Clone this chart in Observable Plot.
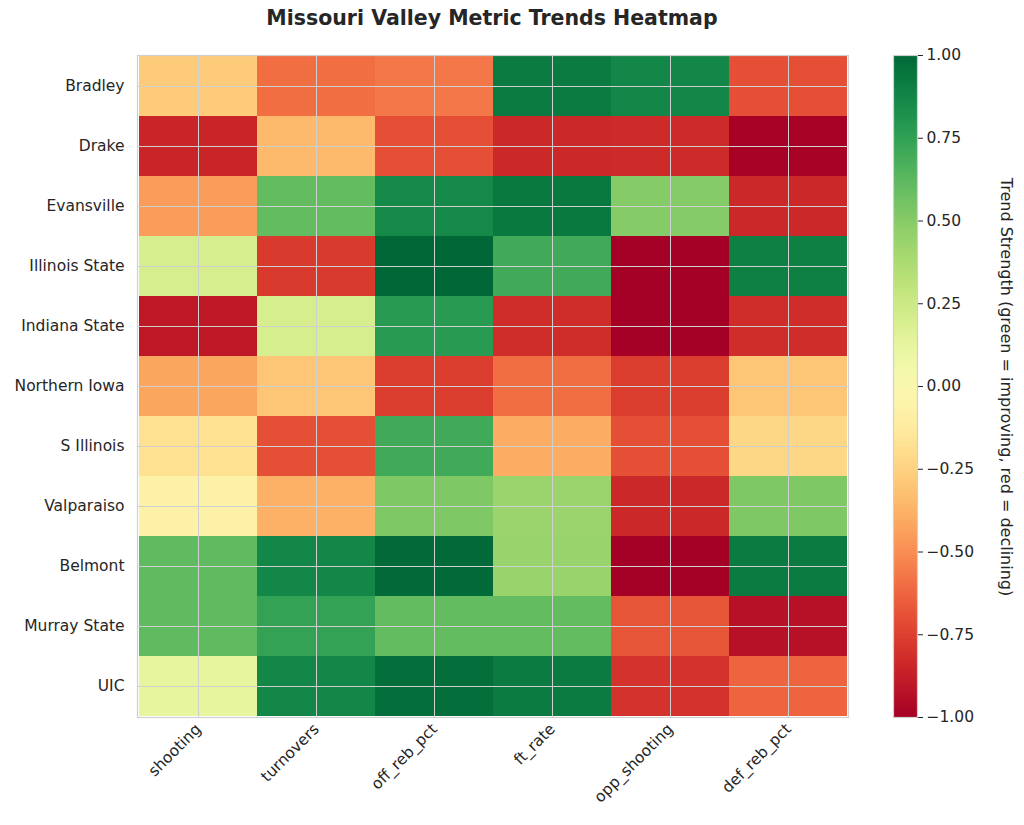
<!DOCTYPE html>
<html>
<head>
<meta charset="utf-8">
<script src="https://cdn.jsdelivr.net/npm/d3@7"></script>
<script src="https://cdn.jsdelivr.net/npm/@observablehq/plot@0.6"></script>
<style>
  body { margin: 0; background: #fff; font-family: "DejaVu Sans", sans-serif; }
  #wrap { position: relative; width: 1024px; height: 825px; overflow: hidden; }
  #title { position: absolute; top: 6px; left: 0; width: 984px; text-align: center; font-weight: bold; font-size: 20.5px; color: #262626; font-family: "DejaVu Sans", sans-serif; }
  #main { position: absolute; left: 0; top: 0; }
  #cbar { position: absolute; left: 850px; top: 0; }
  #main svg, #main svg text, #cbar svg, #cbar svg text { font-size: 15.5px !important; font-family: "DejaVu Sans", sans-serif !important; }
  #cblabel { position: absolute; left: 1006px; top: 387px; transform: translate(-50%, -50%) rotate(90deg); white-space: nowrap; font-size: 16px; color: #262626; font-family: "DejaVu Sans", sans-serif; }
</style>
</head>
<body>
<div id="wrap">
  <div id="main"></div>
  <div id="cbar"></div>
  <div id="title">Missouri Valley Metric Trends Heatmap</div>
  <div id="cblabel">Trend Strength (green = improving, red = declining)</div>
</div>
<script>
const teams = ["Bradley", "Drake", "Evansville", "Illinois State", "Indiana State", "Northern Iowa", "S Illinois", "Valparaiso", "Belmont", "Murray State", "UIC"];
const metrics = ["shooting", "turnovers", "off_reb_pct", "ft_rate", "opp_shooting", "def_reb_pct"];
// one row per team, values in metric order
const shooting    = [-0.28, -0.85, -0.45, 0.20, -0.90, -0.42, -0.18, -0.08, 0.61, 0.61, 0.12];
const turnovers   = [-0.60, -0.35, 0.60, -0.77, 0.20, -0.30, -0.70, -0.38, 0.87, 0.74, 0.87];
const off_reb_pct = [-0.57, -0.70, 0.86, 1.00, 0.78, -0.76, 0.70, 0.52, 0.99, 0.60, 0.97];
const ft_rate     = [0.92, -0.84, 0.93, 0.70, -0.82, -0.60, -0.40, 0.43, 0.44, 0.60, 0.92];
const opp_shooting= [0.87, -0.83, 0.50, -1.00, -1.00, -0.76, -0.70, -0.84, -1.00, -0.68, -0.80];
const def_reb_pct = [-0.70, -0.99, -0.84, 0.90, -0.82, -0.30, -0.23, 0.52, 0.92, -0.93, -0.63];
const colorTicks = [-1, -0.75, -0.5, -0.25, 0, 0.25, 0.5, 0.75, 1];

const series = {shooting, turnovers, off_reb_pct, ft_rate, opp_shooting, def_reb_pct};
const data = [];
teams.forEach((t, i) => metrics.forEach(m => data.push({team: t, metric: m, value: series[m][i]})));

const colorScale = {type: "linear", scheme: "RdYlGn", domain: [-1, 1]};
const ink = "#262626";

const main = Plot.plot({
  width: 870,
  height: 825,
  marginTop: 55,
  marginBottom: 108,
  marginLeft: 137,
  marginRight: 22,
  style: {fontFamily: "DejaVu Sans, sans-serif", background: "white"},
  x: {domain: metrics, padding: 0, label: null},
  y: {domain: teams, padding: 0, label: null},
  color: colorScale,
  marks: [
    Plot.cell(data, {x: "metric", y: "team", fill: "value", inset: 0}),
    Plot.ruleX(metrics, {x: d => d, stroke: "#d0d0d0", strokeWidth: 1}),
    Plot.ruleY(teams, {y: d => d, stroke: "#d0d0d0", strokeWidth: 1}),
    Plot.frame({stroke: "#d0d0d0", strokeWidth: 1.2}),
    Plot.axisX({label: null, tickRotate: -45, tickSize: 0, tickPadding: 9, fill: ink}),
    Plot.axisY({label: null, tickSize: 0, tickPadding: 13, fill: ink})
  ]
});
document.getElementById("main").appendChild(main);

const ramp = d3.range(-1, 1, 0.005);
const cbar = Plot.plot({
  width: 174,
  height: 825,
  marginTop: 55,
  marginBottom: 108,
  marginLeft: 43,
  marginRight: 107,
  style: {fontFamily: "DejaVu Sans, sans-serif", background: "white"},
  x: {domain: [0, 1], axis: null},
  y: {domain: [-1, 1], label: null},
  color: colorScale,
  marks: [
    Plot.rect(ramp, {x1: 0, x2: 1, y1: d => d, y2: d => Math.min(1, d + 0.0075), fill: d => d + 0.0025, shapeRendering: "crispEdges"}),
    Plot.frame({stroke: "#d0d0d0", strokeWidth: 1.2}),
    Plot.axisY({anchor: "right", ticks: colorTicks, tickFormat: d3.format(".2f"), label: null, tickSize: 5, tickPadding: 4, fill: ink, stroke: ink})
  ]
});
document.getElementById("cbar").appendChild(cbar);
</script>
</body>
</html>
